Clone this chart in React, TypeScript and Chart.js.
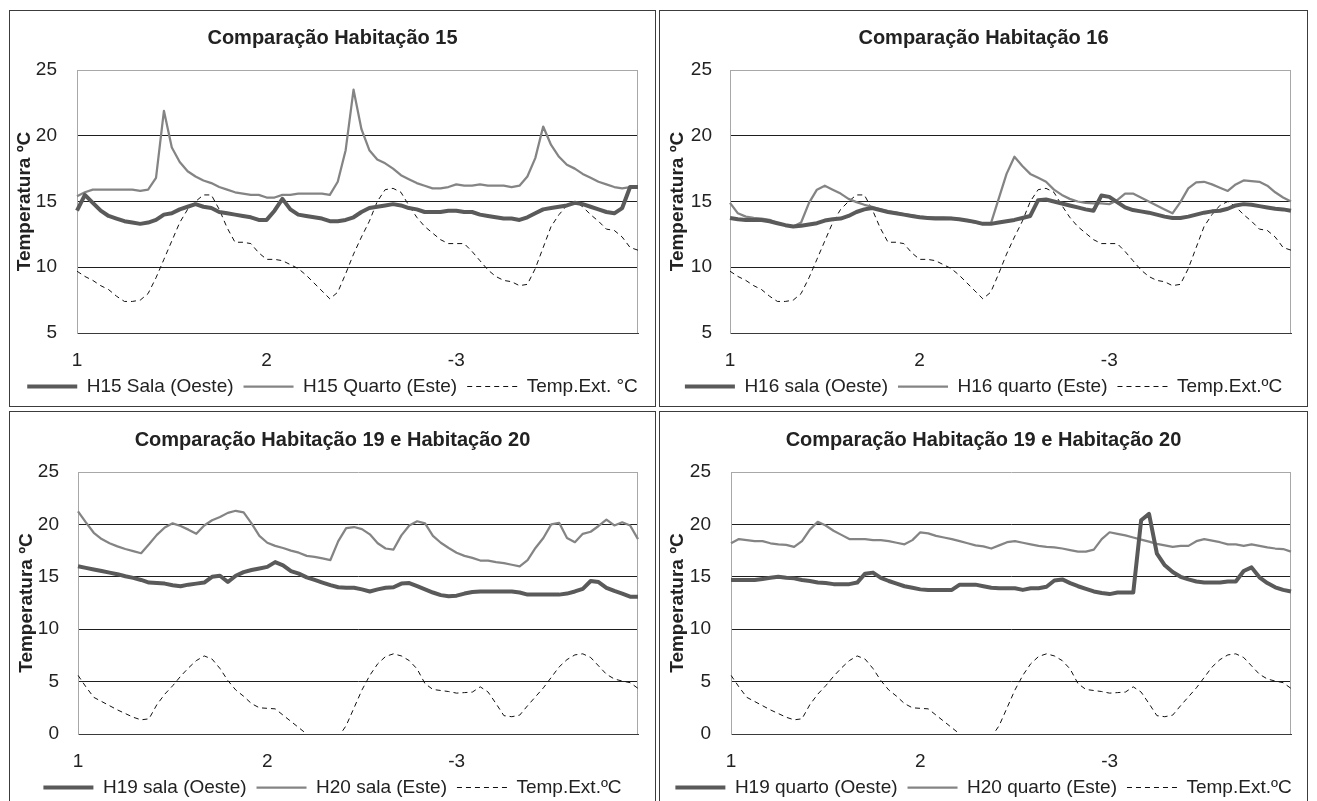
import React, { useEffect, useRef } from "react";
import { Chart, registerables } from "chart.js";

Chart.register(...registerables);

// ---------- data ----------
const DAY_LABELS = ["1", "2", "-3"];
const POINTS_PER_DAY = 24;
const POINT_COUNT = 72;
const CATEGORIES: string[] = Array.from({ length: POINT_COUNT }, (_, i) =>
  i % POINTS_PER_DAY === 0 ? DAY_LABELS[i / POINTS_PER_DAY] : ""
);
const Y_TITLE = "Temperatura ºC";

const TEMP_EXT_A = [
  9.7, 9.3, 9.0, 8.6, 8.3, 7.8, 7.4, 7.4, 7.5, 8.0,
  9.2, 10.6, 12.0, 13.4, 14.4, 15.0, 15.5, 15.5, 14.4, 13.0,
  11.9, 11.9, 11.8, 11.1, 10.6, 10.6, 10.5, 10.2, 9.9, 9.4,
  8.8, 8.2, 7.6, 8.1, 9.5, 11.0, 12.3, 13.5, 15.0, 15.9,
  16.0, 15.7, 14.7, 13.8, 13.1, 12.6, 12.1, 11.8, 11.8, 11.8,
  11.2, 10.5, 9.8, 9.3, 9.0, 8.9, 8.6, 8.7, 9.9, 11.5,
  13.1, 14.0, 14.7, 15.0, 14.6, 14.0, 13.5, 12.9, 12.8, 12.3,
  11.5, 11.3,
];
const H15_SALA = [
  14.3, 15.5, 14.9, 14.3, 13.9, 13.7, 13.5, 13.4, 13.3, 13.4,
  13.6, 14.0, 14.1, 14.4, 14.6, 14.8, 14.6, 14.5, 14.2, 14.1,
  14.0, 13.9, 13.8, 13.6, 13.6, 14.3, 15.2, 14.4, 14.0, 13.9,
  13.8, 13.7, 13.5, 13.5, 13.6, 13.8, 14.2, 14.5, 14.6, 14.7,
  14.8, 14.7, 14.5, 14.4, 14.2, 14.2, 14.2, 14.3, 14.3, 14.2,
  14.2, 14.0, 13.9, 13.8, 13.7, 13.7, 13.6, 13.8, 14.1, 14.4,
  14.5, 14.6, 14.7, 14.9, 14.8, 14.6, 14.4, 14.2, 14.1, 14.5,
  16.1, 16.1,
];
const H15_QUARTO = [
  15.4, 15.7, 15.9, 15.9, 15.9, 15.9, 15.9, 15.9, 15.8, 15.9,
  16.8, 21.9, 19.1, 18.0, 17.3, 16.9, 16.6, 16.4, 16.1, 15.9,
  15.7, 15.6, 15.5, 15.5, 15.3, 15.3, 15.5, 15.5, 15.6, 15.6,
  15.6, 15.6, 15.5, 16.5, 18.9, 23.5, 20.5, 18.9, 18.2, 17.9,
  17.5, 17.0, 16.7, 16.4, 16.2, 16.0, 16.0, 16.1, 16.3, 16.2,
  16.2, 16.3, 16.2, 16.2, 16.2, 16.1, 16.2, 16.9, 18.3, 20.7,
  19.3, 18.4, 17.8, 17.5, 17.1, 16.8, 16.5, 16.3, 16.1, 16.0,
  16.1, 16.1,
];
const H16_SALA = [
  13.75, 13.65, 13.6, 13.6, 13.6, 13.5, 13.35, 13.2, 13.1, 13.15,
  13.25, 13.35, 13.55, 13.65, 13.7, 13.9, 14.2, 14.4, 14.5, 14.35,
  14.2, 14.1, 14.0, 13.9, 13.8, 13.75, 13.7, 13.7, 13.7, 13.65,
  13.55, 13.45, 13.3, 13.3, 13.4, 13.5, 13.6, 13.75, 13.9, 15.1,
  15.15, 15.0, 14.85, 14.7, 14.55, 14.4, 14.3, 15.45, 15.35, 14.95,
  14.55, 14.35, 14.25, 14.15, 14.0, 13.85, 13.75, 13.75, 13.85, 14.0,
  14.15, 14.25, 14.3, 14.45, 14.7, 14.8, 14.75, 14.65, 14.55, 14.45,
  14.4, 14.3,
];
const H16_QUARTO = [
  14.9, 14.1, 13.85, 13.75, 13.7, 13.6, 13.35, 13.2, 13.1, 13.4,
  14.9, 15.9, 16.2, 15.9, 15.6, 15.2, 14.95, 14.75, 14.6, 14.4,
  14.25, 14.15, 14.05, 13.95, 13.85, 13.8, 13.8, 13.8, 13.75, 13.65,
  13.55, 13.4, 13.3, 13.3, 15.2, 17.1, 18.4, 17.7, 17.1, 16.8,
  16.5, 15.9, 15.5, 15.2, 15.0, 14.9, 14.85, 14.85, 14.8, 15.1,
  15.6, 15.6, 15.3, 15.0, 14.7, 14.4, 14.1, 14.95, 16.0, 16.45,
  16.5, 16.3, 16.05, 15.8, 16.3, 16.6, 16.55, 16.5, 16.2, 15.7,
  15.3, 15.0,
];
const TEMP_EXT_B = [
  5.6, 4.5, 3.5, 3.1, 2.7, 2.3, 1.95, 1.6, 1.35, 1.45,
  2.8, 3.8, 4.6, 5.5, 6.3, 7.0, 7.45, 7.15, 6.25, 5.1,
  4.2, 3.6, 2.9, 2.5, 2.45, 2.4, 1.8, 1.2, 0.6, 0.0,
  -0.6, -1.0, -1.0, -0.3, 0.8, 2.5, 4.2, 5.6, 6.7, 7.4,
  7.65, 7.45, 7.0, 6.2, 4.8, 4.25, 4.15, 4.05, 3.9, 3.95,
  4.0, 4.5, 4.0, 2.9, 1.75, 1.65, 1.8, 2.7, 3.55, 4.4,
  5.4, 6.4, 7.1, 7.55, 7.65, 7.3, 6.5, 5.7, 5.25, 5.05,
  4.9, 4.35,
];
const H19_SALA = [
  16.0, 15.85, 15.7, 15.55, 15.4, 15.25, 15.05, 14.9, 14.7, 14.45,
  14.4, 14.35, 14.2, 14.1, 14.25, 14.35, 14.45, 15.0, 15.1, 14.5,
  15.1, 15.45, 15.65, 15.8, 15.95, 16.4, 16.1, 15.55, 15.3, 14.95,
  14.7, 14.45, 14.2, 14.0, 13.95, 13.95, 13.8, 13.6, 13.8, 13.95,
  14.0, 14.35, 14.4, 14.1, 13.8, 13.5, 13.25, 13.15, 13.2, 13.4,
  13.55, 13.6, 13.6, 13.6, 13.6, 13.6, 13.5, 13.3, 13.3, 13.3,
  13.3, 13.3, 13.4, 13.6, 13.85, 14.6, 14.5, 13.95, 13.65, 13.4,
  13.1, 13.1,
];
const H20_SALA = [
  21.25, 20.2, 19.2, 18.6, 18.2, 17.9, 17.65, 17.45, 17.25, 18.1,
  19.0, 19.7, 20.1, 19.85, 19.5, 19.1, 19.9, 20.4, 20.7, 21.1,
  21.3, 21.15, 20.1, 18.9, 18.25, 17.95, 17.75, 17.5, 17.3, 17.0,
  16.9, 16.75, 16.6, 18.4, 19.65, 19.75, 19.55, 19.05, 18.2, 17.7,
  17.6, 18.95, 19.9, 20.3, 20.1, 18.9, 18.25, 17.75, 17.3, 17.0,
  16.8, 16.55, 16.55, 16.4, 16.3, 16.15, 16.0, 16.6, 17.75, 18.7,
  20.0, 20.15, 18.7, 18.3, 19.1, 19.3, 19.85, 20.45, 19.9, 20.2,
  19.9, 18.6,
];
const H19_QUARTO = [
  14.7, 14.7, 14.7, 14.7, 14.8, 14.9, 15.0, 14.9, 14.85, 14.7,
  14.6, 14.45, 14.4, 14.3, 14.3, 14.3, 14.45, 15.3, 15.4, 14.9,
  14.6, 14.35, 14.1, 13.95, 13.8, 13.75, 13.75, 13.75, 13.75, 14.25,
  14.25, 14.25, 14.1, 13.95, 13.9, 13.9, 13.9, 13.75, 13.9, 13.9,
  14.05, 14.65, 14.75, 14.4, 14.1, 13.85, 13.6, 13.45, 13.35, 13.5,
  13.5, 13.5, 20.4, 21.0, 17.2, 16.1, 15.45, 15.0, 14.75, 14.55,
  14.45, 14.45, 14.45, 14.55, 14.55, 15.55, 15.9, 14.95, 14.4, 14.0,
  13.75, 13.6,
];
const H20_QUARTO = [
  18.2, 18.6, 18.5, 18.4, 18.4, 18.2, 18.1, 18.05, 17.85, 18.4,
  19.5, 20.25, 19.9, 19.4, 19.0, 18.6, 18.6, 18.6, 18.5, 18.5,
  18.4, 18.25, 18.1, 18.5, 19.25, 19.15, 18.9, 18.75, 18.6, 18.4,
  18.2, 18.0, 17.9, 17.7, 18.0, 18.3, 18.4, 18.25, 18.1, 17.95,
  17.85, 17.8, 17.7, 17.55, 17.4, 17.4, 17.6, 18.6, 19.25, 19.1,
  18.95, 18.75, 18.55, 18.35, 18.15, 18.0, 17.85, 17.95, 17.95, 18.4,
  18.6, 18.45, 18.3, 18.1, 18.1, 17.95, 18.1, 17.95, 17.8, 17.7,
  17.65, 17.4,
];

// ---------- styles ----------
const FONT_FAMILY = "'Liberation Sans', Arial, sans-serif";
const TEXT = "#222222";
const GRID = "#1e1e1e";
const FRAME = "#a8a8a8";
const PANEL_BORDER = "#3c3c3c";
const SERIES_STYLE = [
  { color: "#5a5a5a", width: 4, dash: [] as number[] },
  { color: "#848484", width: 2.25, dash: [] as number[] },
  { color: "#111111", width: 1, dash: [5, 4] },
];

type PanelCfg = {
  title: string;
  names: string[];
  series: number[][];
  yMin: number;
  left: number;
  top: number;
  width: number;
  height: number;
  axisWidth: number;
  rightWidth: number;
  yTitlePad: number;
  yTickPad: number;
  titleTop: number;
  titleBottom: number;
};

const PANELS: PanelCfg[] = [
  {
    title: "Comparação Habitação 15",
    names: ["H15 Sala (Oeste)", "H15 Quarto (Este)", "Temp.Ext. °C"],
    series: [H15_SALA, H15_QUARTO, TEMP_EXT_A],
    yMin: 5, left: 9, top: 10, width: 645, height: 395,
    axisWidth: 67, rightWidth: 17, yTitlePad: 3.6, yTickPad: 20,
    titleTop: 15, titleBottom: 20,
  },
  {
    title: "Comparação Habitação 16",
    names: ["H16 sala (Oeste)", "H16 quarto (Este)", "Temp.Ext.ºC"],
    series: [H16_SALA, H16_QUARTO, TEMP_EXT_A],
    yMin: 5, left: 659, top: 10, width: 647, height: 395,
    axisWidth: 70, rightWidth: 16, yTitlePad: 6.6, yTickPad: 18,
    titleTop: 15, titleBottom: 20,
  },
  {
    title: "Comparação Habitação 19 e Habitação 20",
    names: ["H19 sala (Oeste)", "H20 sala (Este)", "Temp.Ext.ºC"],
    series: [H19_SALA, H20_SALA, TEMP_EXT_B],
    yMin: 0, left: 9, top: 411, width: 645, height: 395,
    axisWidth: 68, rightWidth: 17, yTitlePad: 5, yTickPad: 19,
    titleTop: 16, titleBottom: 20,
  },
  {
    title: "Comparação Habitação 19 e Habitação 20",
    names: ["H19 quarto (Oeste)", "H20 quarto (Este)", "Temp.Ext.ºC"],
    series: [H19_QUARTO, H20_QUARTO, TEMP_EXT_B],
    yMin: 0, left: 659, top: 411, width: 647, height: 395,
    axisWidth: 71, rightWidth: 16, yTitlePad: 6.6, yTickPad: 20,
    titleTop: 16, titleBottom: 20,
  },
];

const frameRight = {
  id: "frameRight",
  beforeDatasetsDraw(chart: any) {
    const { ctx, chartArea } = chart;
    ctx.save();
    ctx.strokeStyle = FRAME;
    ctx.lineWidth = 1;
    const x = Math.round(chartArea.right) - 0.5;
    ctx.beginPath();
    ctx.moveTo(x, chartArea.top);
    ctx.lineTo(x, chartArea.bottom);
    ctx.stroke();
    ctx.restore();
  },
};

function Panel({ cfg }: { cfg: PanelCfg }) {
  const ref = useRef<HTMLCanvasElement>(null);
  useEffect(() => {
    const canvas = ref.current;
    if (!canvas) return;
    const font = { family: FONT_FAMILY, size: 19 };
    const chart = new Chart(canvas, {
      type: "line",
      data: {
        labels: CATEGORIES,
        datasets: cfg.series.map((values, i) => ({
          label: cfg.names[i],
          data: values,
          borderColor: SERIES_STYLE[i].color,
          backgroundColor: SERIES_STYLE[i].color,
          borderWidth: SERIES_STYLE[i].width,
          borderDash: SERIES_STYLE[i].dash,
          borderJoinStyle: "round" as const,
          borderCapStyle: "butt" as const,
          pointRadius: 0,
          pointHoverRadius: 0,
          tension: 0,
          fill: false,
          yAxisID: "y",
        })),
      },
      options: {
        responsive: false,
        animation: false,
        devicePixelRatio: 1,
        events: [],
        layout: { padding: 0 },
        plugins: {
          title: {
            display: true,
            text: cfg.title,
            color: TEXT,
            font: { family: FONT_FAMILY, size: 20, weight: "bold" },
            padding: { top: cfg.titleTop, bottom: cfg.titleBottom },
          },
          legend: {
            position: "bottom",
            labels: {
              usePointStyle: true,
              pointStyle: "line",
              pointStyleWidth: 50,
              font,
              color: TEXT,
              padding: 10,
              generateLabels: (ch: any) =>
                ch.data.datasets.map((ds: any, i: number) => ({
                  text: ds.label,
                  fillStyle: ds.borderColor,
                  strokeStyle: ds.borderColor,
                  lineWidth: ds.borderWidth,
                  lineDash: ds.borderDash,
                  lineCap: "butt",
                  pointStyle: "line",
                  hidden: false,
                  datasetIndex: i,
                  fontColor: TEXT,
                })),
            },
          },
          tooltip: { enabled: false },
        },
        scales: {
          x: {
            type: "category",
            grid: { display: false, drawTicks: false },
            border: { display: true, color: "#3a3a3a", width: 1 },
            ticks: {
              autoSkip: false,
              maxRotation: 0,
              minRotation: 0,
              padding: 16,
              font,
              color: TEXT,
            },
            afterFit: (s: any) => {
              s.height = 34;
            },
          },
          y: {
            type: "linear",
            min: cfg.yMin,
            max: 25,
            ticks: { stepSize: 5, padding: cfg.yTickPad, font, color: TEXT },
            grid: {
              drawTicks: false,
              color: (c: any) => (c.tick && c.tick.value === 25 ? FRAME : GRID),
            },
            border: { display: true, color: FRAME },
            title: {
              display: true,
              text: Y_TITLE,
              color: TEXT,
              font: { family: FONT_FAMILY, size: 19, weight: "bold" },
              padding: { top: cfg.yTitlePad, bottom: 0 },
            },
            afterFit: (s: any) => {
              s.width = cfg.axisWidth;
            },
          },
          yRight: {
            type: "linear",
            position: "right",
            display: true,
            grid: { display: false, drawTicks: false },
            border: { display: false },
            ticks: { display: false },
            afterFit: (s: any) => {
              s.width = cfg.rightWidth;
            },
          },
        },
      } as any,
      plugins: [frameRight],
    });
    return () => chart.destroy();
  }, [cfg]);

  return (
    <div
      style={{
        position: "absolute",
        left: cfg.left,
        top: cfg.top,
        width: cfg.width,
        height: cfg.height,
        border: `1px solid ${PANEL_BORDER}`,
        background: "#ffffff",
      }}
    >
      <canvas
        ref={ref}
        width={cfg.width}
        height={cfg.height}
        style={{ display: "block", width: cfg.width, height: cfg.height }}
      />
    </div>
  );
}

export default function App() {
  return (
    <div
      style={{
        position: "absolute",
        left: 0,
        top: 0,
        width: 1317,
        height: 801,
        overflow: "hidden",
        background: "#ffffff",
      }}
    >
      {PANELS.map((p, i) => (
        <Panel key={i} cfg={p} />
      ))}
    </div>
  );
}
